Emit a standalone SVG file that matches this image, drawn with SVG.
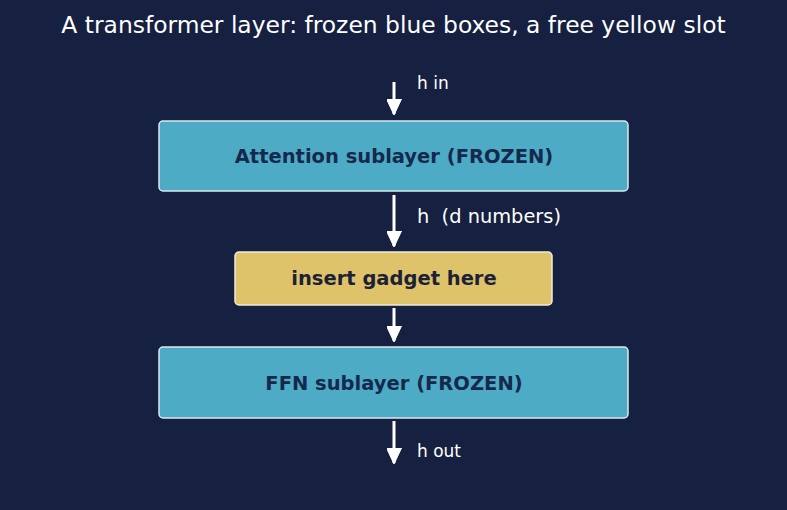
<svg xmlns="http://www.w3.org/2000/svg" width="787" height="510" viewBox="0 0 787 510">
<style>
.bg{fill:#162040}
.title{font-family:"DejaVu Sans",sans-serif;font-size:23.4px;fill:#ffffff;text-anchor:middle}
.frozen{fill:#4eabc5;stroke:#dde8ee;stroke-width:1.5}
.free{fill:#dfc36a;stroke:#f2ecd8;stroke-width:1.5}
.btxt{font-family:"DejaVu Sans",sans-serif;font-size:19.5px;font-weight:bold;fill:#15294d;text-anchor:middle}
.ytxt{font-family:"DejaVu Sans",sans-serif;font-size:19.5px;font-weight:bold;fill:#1c2236;text-anchor:middle}
.lbl{font-family:"DejaVu Sans",sans-serif;font-size:17px;fill:#ffffff;white-space:pre}
.conn{stroke:#ffffff;stroke-width:3;fill:none}
</style>
<defs>
<marker id="ah" viewBox="0 0 16 15" refX="15" refY="7.5" markerWidth="16" markerHeight="15" markerUnits="userSpaceOnUse" orient="auto">
<path d="M0,0 L16,7.5 L0,15 Z" fill="#ffffff" stroke="#ffffff" stroke-width="1" stroke-linejoin="round"/>
</marker>
</defs>
<rect class="bg" x="0" y="0" width="787" height="510"/>
<text class="title" x="393.5" y="33">A transformer layer: frozen blue boxes, a free yellow slot</text>
<g id="connectors">
<line class="conn" x1="394" y1="82" x2="394" y2="114" marker-end="url(#ah)"/>
<line class="conn" x1="394" y1="195" x2="394" y2="246" marker-end="url(#ah)"/>
<line class="conn" x1="394" y1="308" x2="394" y2="341" marker-end="url(#ah)"/>
<line class="conn" x1="394" y1="421" x2="394" y2="463" marker-end="url(#ah)"/>
<text class="lbl" x="417" y="89">h in</text>
<text class="lbl" x="417" y="223" style="font-size:19.4px" xml:space="preserve">h  (d numbers)</text>
<text class="lbl" x="417" y="457">h out</text>
</g>
<g id="attention">
<rect class="frozen" x="159" y="121" width="469" height="70" rx="4"/>
<text class="btxt" x="394" y="163">Attention sublayer (FROZEN)</text>
</g>
<g id="gadget">
<rect class="free" x="235" y="252" width="317" height="53" rx="4"/>
<text class="ytxt" x="394" y="285">insert gadget here</text>
</g>
<g id="ffn">
<rect class="frozen" x="159" y="347" width="469" height="71" rx="4"/>
<text class="btxt" x="394" y="390">FFN sublayer (FROZEN)</text>
</g>
</svg>
